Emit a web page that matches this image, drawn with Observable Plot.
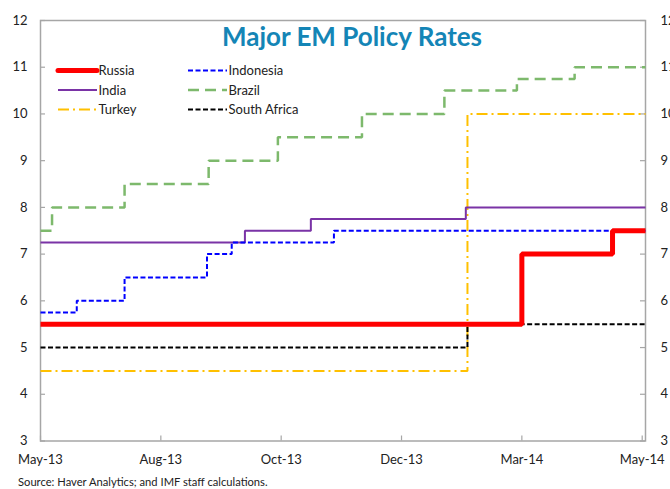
<!DOCTYPE html>
<html>
<head>
<meta charset="utf-8">
<script src="https://cdn.jsdelivr.net/npm/d3@7"></script>
<script src="https://cdn.jsdelivr.net/npm/@observablehq/plot@0.6"></script>
<style>
  html, body { margin: 0; padding: 0; background: #fff; }
  #chart svg { display: block; }
</style>
</head>
<body>
<div id="chart"></div>
<script>
// ---- Data ----
const domainStart = "2013-05-15";
const domainEnd = "2014-05-17";

const tickDates = ["2013-05-15", "2013-07-27", "2013-10-08", "2013-12-20", "2014-03-03", "2014-05-15"];
const tickLabels = ["May-13", "Aug-13", "Oct-13", "Dec-13", "Mar-14", "May-14"];
const yTicks = [3, 4, 5, 6, 7, 8, 9, 10, 11, 12];

const russiaDates = ["2013-05-15", "2014-03-03", "2014-04-27", "2014-05-17"];
const russiaRates = [5.5, 7.0, 7.5, 7.5];

const indonesiaDates = ["2013-05-15", "2013-06-06", "2013-07-05", "2013-08-24", "2013-09-08", "2013-11-09", "2014-05-17"];
const indonesiaRates = [5.75, 6.0, 6.5, 7.0, 7.25, 7.5, 7.5];

const indiaDates = ["2013-05-15", "2013-09-16", "2013-10-26", "2014-01-28", "2014-05-17"];
const indiaRates = [7.25, 7.5, 7.75, 8.0, 8.0];

const brazilDates = ["2013-05-15", "2013-05-22", "2013-07-05", "2013-08-25", "2013-10-06", "2013-11-26", "2014-01-15", "2014-02-28", "2014-04-04", "2014-05-17"];
const brazilRates = [7.5, 8.0, 8.5, 9.0, 9.5, 10.0, 10.5, 10.75, 11.0, 11.0];

const turkeyDates = ["2013-05-15", "2014-01-29", "2014-05-17"];
const turkeyRates = [4.5, 10.0, 10.0];

const southAfricaDates = ["2013-05-15", "2014-01-29", "2014-05-17"];
const southAfricaRates = [5.0, 5.5, 5.5];

// ---- Styles ----
const seriesStyles = [
  {name: "Turkey", dates: turkeyDates, rates: turkeyRates, color: "#FFC000", width: 2, dash: "11,4,2,4"},
  {name: "South Africa", dates: southAfricaDates, rates: southAfricaRates, color: "#000000", width: 2, dash: "5,2.5"},
  {name: "Brazil", dates: brazilDates, rates: brazilRates, color: "#7DB96C", width: 2.5, dash: "11,6"},
  {name: "India", dates: indiaDates, rates: indiaRates, color: "#7A33A6", width: 2, dash: null},
  {name: "Indonesia", dates: indonesiaDates, rates: indonesiaRates, color: "#0000FF", width: 2, dash: "5,2.5"},
  {name: "Russia", dates: russiaDates, rates: russiaRates, color: "#FF0000", width: 5, dash: null}
];

const parse = d3.utcParse("%Y-%m-%d");
const W = 670, H = 489;
const mL = 40, mR = 25, mT = 20, mB = 48.5;
const plotW = W - mL - mR, plotH = H - mT - mB;
const axisGray = "#A6A6A6";

const lineMarks = seriesStyles.map(s => {
  const rows = s.dates.map((d, i) => ({date: parse(d), rate: s.rates[i]}));
  return Plot.line(rows, {
    x: "date", y: "rate", curve: "step-after",
    stroke: s.color, strokeWidth: s.width,
    strokeDasharray: s.dash ?? undefined,
    strokeLinejoin: "miter", strokeLinecap: "butt"
  });
});

const tickRows = tickDates.map((d, i) => ({date: parse(d), label: tickLabels[i]}));

const chart = Plot.plot({
  width: W, height: H,
  marginLeft: mL, marginRight: mR, marginTop: mT, marginBottom: mB,
  style: {fontFamily: "Lato, 'Open Sans', sans-serif", fontSize: "13px", color: "#222"},
  x: {type: "utc", domain: [parse(domainStart), parse(domainEnd)]},
  y: {domain: [3, 12]},
  marks: [
    Plot.frame({stroke: axisGray, strokeWidth: 1.5}),
    Plot.tickY(yTicks, {y: d => d, insetRight: plotW - 5, stroke: axisGray, strokeWidth: 1.2}),
    Plot.tickY(yTicks, {y: d => d, insetLeft: plotW - 5, stroke: axisGray, strokeWidth: 1.2}),
    Plot.tickX(tickRows, {x: "date", insetTop: plotH - 5, stroke: axisGray, strokeWidth: 1.2}),
    Plot.axisY(yTicks, {anchor: "left", tickSize: 0, tickPadding: 13, label: null, fontSize: 13}),
    Plot.axisY(yTicks, {anchor: "right", tickSize: 0, tickPadding: 15, label: null, fontSize: 13}),
    Plot.axisX(tickRows.map(d => d.date), {anchor: "bottom", tickSize: 0, tickPadding: 14, label: null, fontSize: 13,
      tickFormat: d => tickLabels[tickDates.indexOf(d3.utcFormat("%Y-%m-%d")(d))]}),
    ...lineMarks
  ]
});

const svg = d3.select(chart);

// Title
svg.append("text")
  .attr("x", 352).attr("y", 46)
  .attr("text-anchor", "middle")
  .attr("font-family", "Lato, 'Open Sans', sans-serif")
  .attr("font-weight", "bold")
  .attr("font-size", 26)
  .attr("fill", "#1485B6")
  .text("Major EM Policy Rates");

// Legend
const legendOrder = ["Russia", "Indonesia", "India", "Brazil", "Turkey", "South Africa"];
const legend = svg.append("g").attr("text-anchor", "start");
legendOrder.forEach((name, i) => {
  const s = seriesStyles.find(d => d.name === name);
  const col = i % 2, row = Math.floor(i / 2);
  const x0 = col === 0 ? 58 : 188;
  const y0 = 70.5 + row * 19.5;
  legend.append("line")
    .attr("x1", x0).attr("x2", x0 + 39).attr("y1", y0).attr("y2", y0)
    .attr("stroke", s.color).attr("stroke-width", s.width)
    .attr("stroke-linecap", name === "Russia" ? "round" : "butt")
    .attr("stroke-dasharray", s.dash ?? null);
  legend.append("text")
    .attr("x", x0 + 40.5).attr("y", y0 + 4.5)
    .attr("text-anchor", "start")
    .attr("font-family", "Lato, 'Open Sans', sans-serif")
    .attr("font-size", 13)
    .attr("fill", "#222")
    .text(name);
});

// Caption
svg.append("text")
  .attr("x", 18).attr("y", 486)
  .attr("text-anchor", "start")
  .attr("font-family", "Lato, 'Open Sans', sans-serif")
  .attr("font-size", 11.2)
  .attr("fill", "#222")
  .text("Source: Haver Analytics; and IMF staff calculations.");

document.getElementById("chart").appendChild(chart);
</script>
</body>
</html>
